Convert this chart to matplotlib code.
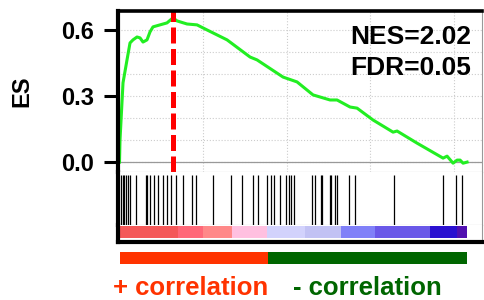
import numpy as np
import matplotlib
matplotlib.use('Agg')
import matplotlib.pyplot as plt

plt.rcParams['font.family'] = ['Liberation Sans', 'DejaVu Sans']
plt.rcParams['font.weight'] = 'bold'
plt.rcParams['axes.labelweight'] = 'bold'

# ---- data ----
n_genes = 20810
x_max = 21700

# running enrichment score
es_rank = [0, 30, 210, 449, 629, 808, 1048, 1228, 1407, 1647, 1826, 2006, 2425,
           2844, 3200, 3443, 4042, 4641, 5240, 6437, 7815, 8233, 9790, 10628,
           11586, 12604, 13023, 13801, 14221, 15179, 16376, 16616, 17813, 19370,
           19610, 19969, 20208, 20388, 20568, 20808]
es_val = [0, 0.10, 0.36, 0.464, 0.541, 0.555, 0.568, 0.564, 0.545, 0.555, 0.591,
          0.614, 0.623, 0.632, 0.655, 0.641, 0.627, 0.623, 0.60, 0.555, 0.477,
          0.464, 0.386, 0.364, 0.305, 0.282, 0.282, 0.25, 0.245, 0.191, 0.136,
          0.141, 0.086, 0.018, 0.027, -0.005, 0.009, 0.009, -0.005, 0]
peak_rank = 3200

# gene set hits
hits = [90, 192, 287, 389, 491, 629, 970, 1569, 1665, 1826, 2084, 2323, 2623,
        2826, 3084, 3383, 3820, 4323, 4563, 5617, 6659, 7335, 7994, 8293, 8850,
        9090, 9234, 9629, 9988, 10132, 10288, 10449, 11527, 11689, 12048, 12126,
        12587, 12683, 12922, 13042, 13725, 14084, 16455, 19354, 20132, 20491]

# ranked list colour bar
bar_edges = [0, 3503, 5000, 6737, 8832, 11105, 13261, 15297, 18590, 20207, 20810]
bar_colors = ['#f45858', '#ff6878', '#ff8888', '#ffc0e0', '#d2d2fc', '#c2c2f4',
              '#8080f8', '#6a58e8', '#2a10d0', '#5010b0']

corr_split = 8892
nes_text = 'NES=2.02'
fdr_text = 'FDR=0.05'

W, H = 484, 300
fig = plt.figure(figsize=(W / 100, H / 100), dpi=100)


def box(x0, y0, x1, y1):
    # pixel box (top-left origin) -> figure fraction rect
    return [x0 / W, 1 - y1 / H, (x1 - x0) / W, (y1 - y0) / H]


ax1 = fig.add_axes(box(118, 11, 482, 172))
ax2 = fig.add_axes(box(118, 172, 482, 225))
ax3 = fig.add_axes(box(118, 225, 482, 242))
ax4 = fig.add_axes(box(118, 252, 482, 264))

for ax in [ax1, ax2, ax3, ax4]:
    ax.set_xlim(-90, x_max)
    ax.set_xticks([])
    for s in ax.spines.values():
        s.set_color('#999999')
        s.set_linewidth(0.8)
    ax.spines['left'].set_color('black')
    ax.spines['left'].set_linewidth(3)

# ---- ES panel ----
ax1.set_ylim(-0.045, 0.686)
ax1.spines['top'].set_color('black')
ax1.spines['top'].set_linewidth(2.6)
ax1.set_yticks([0.0, 0.3, 0.6])
ax1.set_yticklabels(['0.0', '0.3', '0.6'])
ax1.tick_params(axis='y', length=10, width=2.2, pad=7, labelsize=17)
ax1.set_xticks([5000, 10000, 15000, 20000])
ax1.tick_params(axis='x', length=0, labelbottom=False)
ax1.set_yticks(np.arange(-0.0, 0.7, 0.1), minor=True)
ax1.tick_params(axis='y', which='minor', length=0)
ax1.grid(True, which='both', color='#cccccc', linestyle=':', linewidth=0.8)
ax1.axhline(0, color='#999999', linewidth=0.9)
ax1.plot(es_rank, es_val, color='#22ee22', linewidth=2.2)
ax1.axvline(peak_rank, color='#ff0000', linewidth=3.6, linestyle=(0, (3.2, 1.1)))
ax1.set_ylabel('ES', fontsize=17, labelpad=20)
ax1.text(0.97, 0.838, nes_text, transform=ax1.transAxes, ha='right', va='center',
         fontsize=19)
ax1.text(0.97, 0.646, fdr_text, transform=ax1.transAxes, ha='right', va='center',
         fontsize=19)

# ---- hits panel ----
ax2.set_ylim(0, 1)
ax2.set_yticks([])
ax2.spines['top'].set_visible(False)
ax2.vlines(hits, 0, 0.94, color='black', linewidth=0.9)

# ---- colour bar ----
ax3.set_ylim(0, 1)
ax3.set_yticks([])
ax3.spines['top'].set_visible(False)
ax3.spines['bottom'].set_color('black')
ax3.spines['bottom'].set_linewidth(3)
for i, c in enumerate(bar_colors):
    ax3.axvspan(bar_edges[i], bar_edges[i + 1], ymin=0.22, ymax=0.97,
                color=c, linewidth=0)

# ---- correlation bar ----
ax4.set_ylim(0, 1)
ax4.set_yticks([])
ax4.axis('off')
ax4.barh(0.5, corr_split, left=0, height=1, color='#ff3300')
ax4.barh(0.5, n_genes - corr_split, left=corr_split, height=1, color='#006600')

fig.text(113 / W, 1 - 295 / H, '+ correlation', color='#ff3300', fontsize=18.5,
         ha='left', va='baseline')
fig.text(293 / W, 1 - 295 / H, '- correlation', color='#006600', fontsize=18.5,
         ha='left', va='baseline')

fig.savefig('out.png', dpi=100)
